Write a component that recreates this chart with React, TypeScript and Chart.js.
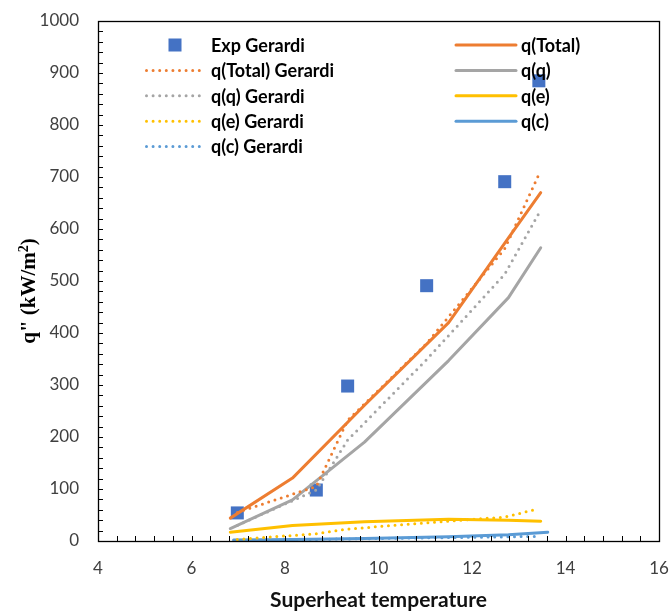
import { useEffect, useRef } from "react";
import { Chart, registerables } from "chart.js";

Chart.register(...registerables);

// ---- data ----
const gerardiX = [6.98, 8.67, 9.34, 11.03, 12.7, 13.43];
const expGerardi = [54, 98, 298, 491, 691, 885];
const qTotalGerardi = [55, 105, 232, 380, 562, 705];
const qQGerardi = [30, 98, 194, 349, 513, 630];
const qEGerardi = [3, 14, 23, 35, 46, 62];
const qCGerardi = [1, 3, 4, 6, 8, 9];

const modelX = [6.83, 8.16, 9.7, 11.5, 12.78, 13.47];
const qTotal = [44, 121, 261, 420, 583, 670];
const qQ = [24, 79, 190, 347, 468, 564];
const qE = [17, 30, 37, 42, 40, 38];
const qCX = [6.9, 8.16, 9.7, 11.5, 12.78, 13.62];
const qC = [2, 3, 5, 8, 12, 17];

const xMin = 4, xMax = 16, xStep = 2, xMinor = 0.4;
const yMin = 0, yMax = 1000, yStep = 100, yMinor = 20;

const xTitle = "Superheat temperature";

const ORANGE = "#ED7D31";
const GREY = "#A5A5A5";
const YELLOW = "#FFC000";
const BLUE = "#5B9BD5";
const SQUARE = "#4472C4";

const pts = (xs: number[], ys: number[]) => xs.map((x, i) => ({ x, y: ys[i] }));

const solid = (label: string, color: string, xs: number[], ys: number[]) => ({
  label,
  data: pts(xs, ys),
  borderColor: color,
  backgroundColor: color,
  borderWidth: 3,
  pointRadius: 0,
  tension: 0,
  borderCapStyle: "round",
  borderJoinStyle: "round",
  order: 1,
});
const dotted = (label: string, color: string, xs: number[], ys: number[]) => ({
  label,
  data: pts(xs, ys),
  borderColor: color,
  backgroundColor: color,
  borderWidth: 3,
  borderDash: [0, 6.6],
  borderCapStyle: "round",
  pointRadius: 0,
  tension: 0,
  order: 1,
});

const decor = {
  id: "decor",
  afterDatasetsDraw(chart: any) {
    const { ctx, chartArea: a, scales } = chart;
    const xs = scales.x, ys = scales.y;
    ctx.save();
    // frame
    ctx.strokeStyle = "#000";
    ctx.lineWidth = 1.3;
    ctx.setLineDash([]);
    ctx.strokeRect(Math.round(a.left) + 0.5, Math.round(a.top) + 0.5, Math.round(a.right - a.left), Math.round(a.bottom - a.top));
    // inside ticks
    ctx.lineWidth = 1;
    ctx.beginPath();
    const nx = Math.round((xMax - xMin) / xMinor);
    for (let k = 1; k < nx; k++) {
      const px = Math.round(xs.getPixelForValue(xMin + k * xMinor)) + 0.5;
      ctx.moveTo(px, a.bottom);
      ctx.lineTo(px, a.bottom - 5);
    }
    const ny = Math.round((yMax - yMin) / yMinor);
    for (let k = 1; k < ny; k++) {
      const py = Math.round(ys.getPixelForValue(yMin + k * yMinor)) + 0.5;
      ctx.moveTo(a.left, py);
      ctx.lineTo(a.left + 5, py);
    }
    ctx.stroke();

    // y title with superscript
    ctx.fillStyle = "#000";
    ctx.save();
    ctx.translate(30, (a.top + a.bottom) / 2 + 10);
    ctx.rotate(-Math.PI / 2);
    const f1 = 'bold 21px "Liberation Serif"';
    const f2 = 'bold 14px "Liberation Serif"';
    ctx.font = f1;
    const p1 = 'q" (kW/m';
    const p3 = ")";
    const w1 = ctx.measureText(p1).width;
    const w3 = ctx.measureText(p3).width;
    ctx.font = f2;
    const w2 = ctx.measureText("2").width;
    const total = w1 + w2 + w3;
    let cx = -total / 2;
    ctx.textBaseline = "middle";
    ctx.textAlign = "left";
    ctx.font = f1;
    ctx.fillText(p1, cx, 0);
    cx += w1;
    ctx.font = f2;
    ctx.fillText("2", cx, -6);
    cx += w2;
    ctx.font = f1;
    ctx.fillText(p3, cx, 0);
    ctx.restore();

    // x title
    ctx.font = 'bold 21px Lato';
    ctx.fillStyle = "#111";
    ctx.textAlign = "center";
    ctx.textBaseline = "middle";
    ctx.fillText(xTitle, (a.left + a.right) / 2, 600);

    // legend
    ctx.font = 'bold 18px Lato';
    ctx.fillStyle = "#000";
    ctx.textAlign = "left";
    ctx.textBaseline = "middle";
    chart.data.datasets.forEach((ds: any, i: number) => {
      const col = i % 2;
      const row = Math.floor(i / 2);
      const y = 45 + row * 25.4;
      const l1 = col === 0 ? 145 : 456;
      const l2 = col === 0 ? 203 : 516;
      const tx = col === 0 ? 211 : 521;
      if (ds.showLine === false) {
        ctx.fillStyle = ds.backgroundColor;
        ctx.fillRect(175 - 6.5, y - 6.5, 13, 13);
      } else {
        ctx.save();
        ctx.strokeStyle = ds.borderColor;
        ctx.lineWidth = ds.borderWidth;
        ctx.lineCap = ds.borderCapStyle || "butt";
        ctx.setLineDash(ds.borderDash || []);
        ctx.beginPath();
        ctx.moveTo(l1 + (ds.borderDash ? 1.5 : 0), y);
        ctx.lineTo(l2, y);
        ctx.stroke();
        ctx.restore();
      }
      ctx.fillStyle = "#000";
      ctx.fillText(ds.label, tx, y + 1);
    });
    ctx.restore();
  },
};

export default function App() {
  const ref = useRef<HTMLCanvasElement | null>(null);
  useEffect(() => {
    if (!ref.current) return;
    const chart = new Chart(ref.current, {
      type: "line",
      data: {
        datasets: [
          {
            label: "Exp Gerardi",
            data: pts(gerardiX, expGerardi),
            showLine: false,
            pointStyle: "rect",
            pointRadius: 9.2,
            pointBorderWidth: 0,
            backgroundColor: SQUARE,
            borderColor: SQUARE,
            order: 5,
          } as any,
          solid("q(Total)", ORANGE, modelX, qTotal),
          dotted("q(Total) Gerardi", ORANGE, gerardiX, qTotalGerardi),
          solid("q(q)", GREY, modelX, qQ),
          dotted("q(q) Gerardi", GREY, gerardiX, qQGerardi),
          solid("q(e)", YELLOW, modelX, qE),
          dotted("q(e) Gerardi", YELLOW, gerardiX, qEGerardi),
          solid("q(c)", BLUE, qCX, qC),
          dotted("q(c) Gerardi", BLUE, gerardiX, qCGerardi),
        ] as any,
      },
      options: {
        animation: false,
        responsive: false,
        layout: { padding: { top: 21, right: 11, left: 0, bottom: 0 } },
        plugins: { legend: { display: false }, tooltip: { enabled: false } },
        scales: {
          x: {
            type: "linear",
            min: xMin,
            max: xMax,
            grid: { display: false },
            border: { display: false },
            ticks: {
              stepSize: xStep,
              padding: 9,
              color: "#404040",
              font: { family: "Lato", size: 17 },
              maxRotation: 0,
              callback: (v: any) => String(v),
            },
            afterFit: (s: any) => { s.height = 71; s.paddingLeft = 0; s.paddingRight = 0; },
          },
          y: {
            type: "linear",
            min: yMin,
            max: yMax,
            grid: { display: false },
            border: { display: false },
            ticks: {
              stepSize: yStep,
              padding: 11,
              color: "#404040",
              font: { family: "Lato", size: 17 },
              callback: (v: any) => String(v),
            },
            afterFit: (s: any) => { s.width = 98; s.paddingTop = 0; s.paddingBottom = 0; },
          },
        },
      } as any,
      plugins: [decor],
    });
    return () => chart.destroy();
  }, []);
  return (
    <div style={{ position: "fixed", left: 0, top: 0, width: 670, height: 612, background: "#fff" }}>
      <canvas ref={ref} width={670} height={612} />
    </div>
  );
}
